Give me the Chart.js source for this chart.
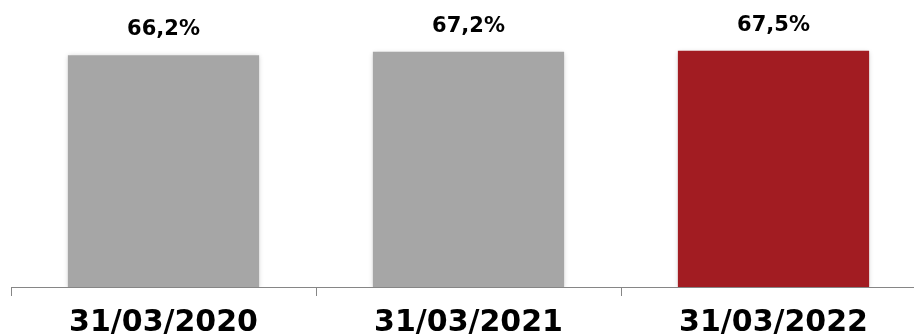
<!DOCTYPE html>
<html lang="pt">
<head>
    <meta charset="UTF-8">
    <title>Índice</title>
    <script src="https://cdn.jsdelivr.net/npm/chart.js"></script>
    <style>
        html, body {
            margin: 0;
            padding: 0;
            background: #fff;
            overflow: hidden;
        }
        #chartBox {
            width: 940px;
            height: 336px;
        }
    </style>
</head>
<body>
    <div id="chartBox">
        <canvas id="barChart"></canvas>
    </div>

    <script>
        // dados
        const datas = ["31/03/2020", "31/03/2021", "31/03/2022"];
        const valores = [66.2, 67.2, 67.5];
        const rotulos = ["66,2%", "67,2%", "67,5%"];
        const cores = ["#a6a6a6", "#a6a6a6", "#a21c22"];

        // rótulos de valor acima das barras
        const valueLabels = {
            id: 'valueLabels',
            afterDatasetsDraw(chart) {
                const ctx = chart.ctx;
                const meta = chart.getDatasetMeta(0);
                ctx.save();
                ctx.font = 'bold 21px "DejaVu Sans"';
                ctx.fillStyle = '#000';
                ctx.textAlign = 'center';
                ctx.textBaseline = 'alphabetic';
                meta.data.forEach((bar, i) => {
                    ctx.fillText(rotulos[i], bar.x, bar.y - 20);
                });
                ctx.restore();
            }
        };

        // sombra leve nas barras
        const barShadow = {
            id: 'barShadow',
            beforeDatasetsDraw(chart) {
                const ctx = chart.ctx;
                ctx.save();
                ctx.shadowColor = 'rgba(0, 0, 0, 0.22)';
                ctx.shadowBlur = 5;
                ctx.shadowOffsetX = 0;
                ctx.shadowOffsetY = 1;
            },
            afterDatasetsDraw(chart) {
                chart.ctx.restore();
            }
        };

        const ctx = document.getElementById('barChart').getContext('2d');
        new Chart(ctx, {
            type: 'bar',
            data: {
                labels: datas,
                datasets: [{
                    data: valores,
                    backgroundColor: cores,
                    borderWidth: 0,
                    categoryPercentage: 1,
                    barPercentage: 0.627
                }]
            },
            options: {
                responsive: true,
                maintainAspectRatio: false,
                animation: false,
                layout: {
                    padding: { left: 11, right: 14, top: 0, bottom: 0 }
                },
                plugins: {
                    legend: { display: false },
                    tooltip: { enabled: false }
                },
                scales: {
                    x: {
                        offset: true,
                        afterFit(scale) { scale.height = 49; },
                        grid: {
                            offset: true,
                            drawOnChartArea: false,
                            drawTicks: true,
                            tickLength: 9,
                            color: '#868686'
                        },
                        border: { color: '#868686', width: 1 },
                        ticks: {
                            color: '#000',
                            padding: 9,
                            maxRotation: 0,
                            font: { family: '"DejaVu Sans"', size: 30, weight: 'bold', lineHeight: 1.2 }
                        }
                    },
                    y: {
                        display: false,
                        min: 0,
                        max: 82
                    }
                }
            },
            plugins: [barShadow, valueLabels]
        });
    </script>
</body>
</html>
